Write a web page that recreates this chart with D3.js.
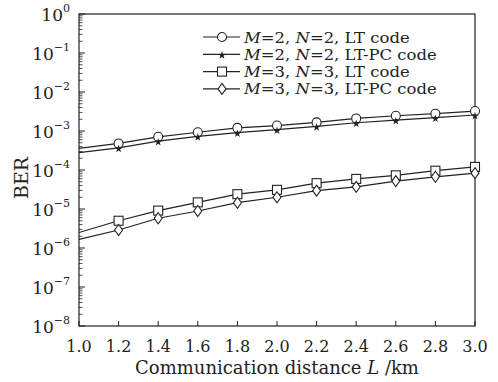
<!DOCTYPE html>
<html>
<head>
<meta charset="utf-8">
<script src="https://cdn.jsdelivr.net/npm/d3@7"></script>
<style>
  body { margin: 0; background: #fff; }
  text { font-family: "DejaVu Serif", "Liberation Serif", serif; fill: #222; }
</style>
</head>
<body>
<div id="chart"></div>
<script>
// data
var distance = [1.0, 1.2, 1.4, 1.6, 1.8, 2.0, 2.2, 2.4, 2.6, 2.8, 3.0];
var m2LT   = [3.6e-4, 4.8e-4, 7.1e-4, 9.3e-4, 1.2e-3, 1.38e-3, 1.66e-3, 2.1e-3, 2.46e-3, 2.78e-3, 3.25e-3];
var m2LTPC = [2.8e-4, 3.7e-4, 5.5e-4, 7.3e-4, 9.1e-4, 1.08e-3, 1.32e-3, 1.63e-3, 1.9e-3, 2.2e-3, 2.57e-3];
var m3LT   = [2.5e-6, 5.0e-6, 9.1e-6, 1.48e-5, 2.4e-5, 3.1e-5, 4.6e-5, 5.9e-5, 7.3e-5, 9.6e-5, 1.2e-4];
var m3LTPC = [1.66e-6, 2.9e-6, 5.8e-6, 8.9e-6, 1.45e-5, 2.0e-5, 2.95e-5, 3.7e-5, 5.2e-5, 6.7e-5, 8.3e-5];
var seriesNames = ["M=2, N=2, LT code", "M=2, N=2, LT-PC code", "M=3, N=3, LT code", "M=3, N=3, LT-PC code"];
var markers = ["circle", "star", "square", "diamond"];
var xTicks = [1.0, 1.2, 1.4, 1.6, 1.8, 2.0, 2.2, 2.4, 2.6, 2.8, 3.0];
var yExponents = [0, -1, -2, -3, -4, -5, -6, -7, -8];

var W = 498, H = 382;
var margin = {top: 14, right: 23, bottom: 56, left: 79};
var width = W - margin.left - margin.right,
    height = H - margin.top - margin.bottom;

var svg = d3.select("#chart").append("svg")
    .attr("width", W).attr("height", H);
var g = svg.append("g")
    .attr("transform", "translate(" + margin.left + "," + margin.top + ")");

var x = d3.scaleLinear().domain([1.0, 3.0]).range([0, width]);
var y = d3.scaleLog().domain([1e-8, 1]).range([height, 0]);

// bottom ticks (inward)
g.selectAll(".xt").data(xTicks).enter().append("line")
    .attr("x1", function(d) { return x(d); }).attr("x2", function(d) { return x(d); })
    .attr("y1", height).attr("y2", height - 5)
    .attr("stroke", "#222").attr("stroke-width", 1);
g.selectAll(".xl").data(xTicks).enter().append("text")
    .attr("x", function(d) { return x(d); })
    .attr("y", height + 26)
    .attr("text-anchor", "middle")
    .style("font-size", "16px")
    .text(function(d) { return d.toFixed(1); });

// left ticks: decades plus minor
yExponents.forEach(function(e) {
    var v = Math.pow(10, e);
    g.append("line").attr("x1", 0).attr("x2", 6)
        .attr("y1", y(v)).attr("y2", y(v))
        .attr("stroke", "#222").attr("stroke-width", 1);
    if (e < 0) {
        for (var k = 2; k <= 9; k++) {
            var mv = k * Math.pow(10, e);
            g.append("line").attr("x1", 0).attr("x2", 3.5)
                .attr("y1", y(mv)).attr("y2", y(mv))
                .attr("stroke", "#222").attr("stroke-width", 0.8);
        }
    }
    var t = g.append("text")
        .attr("x", -9).attr("y", y(v) + 7)
        .attr("text-anchor", "end")
        .style("font-size", "17px");
    t.append("tspan").text("10");
    t.append("tspan").attr("dy", -9).style("font-size", "11px").text(e === 0 ? "0" : "\u2212" + (-e));
});

// frame
g.append("rect").attr("width", width).attr("height", height)
    .attr("fill", "none").attr("stroke", "#222").attr("stroke-width", 1.2);

// axis titles
svg.append("text")
    .attr("x", margin.left + width / 2).attr("y", H - 8)
    .attr("text-anchor", "middle")
    .style("font-size", "18px")
    .html('Communication distance <tspan font-style="italic">L</tspan> /km');
svg.append("text")
    .attr("transform", "translate(28," + (margin.top + height / 2 + 8) + ") rotate(-90)")
    .attr("text-anchor", "middle")
    .style("font-size", "19px")
    .text("BER");

function drawMarker(sel, type, cx, cy) {
    if (type == "circle") {
        sel.append("circle").attr("cx", cx).attr("cy", cy).attr("r", 4.5)
            .attr("fill", "#fff").attr("stroke", "#222").attr("stroke-width", 1.1);
    } else if (type == "square") {
        sel.append("rect").attr("x", cx - 4.5).attr("y", cy - 4.5)
            .attr("width", 9).attr("height", 9)
            .attr("fill", "#fff").attr("stroke", "#222").attr("stroke-width", 1.1);
    } else if (type == "diamond") {
        sel.append("path").attr("d", "M" + cx + "," + (cy - 5.5) + "L" + (cx + 4) + "," + cy +
                "L" + cx + "," + (cy + 5.5) + "L" + (cx - 4) + "," + cy + "Z")
            .attr("fill", "#fff").attr("stroke", "#222").attr("stroke-width", 1.1);
    } else {
        sel.append("path").attr("d", d3.symbol().type(d3.symbolStar).size(20)())
            .attr("transform", "translate(" + cx + "," + (cy + 1) + ")")
            .attr("fill", "#222");
    }
}

var allSeries = [m2LT, m2LTPC, m3LT, m3LTPC];
var line = d3.line()
    .x(function(d, i) { return x(distance[i]); })
    .y(function(d) { return y(d); });

allSeries.forEach(function(s, si) {
    g.append("path").attr("d", line(s))
        .attr("fill", "none").attr("stroke", "#222").attr("stroke-width", 1.2);
    s.forEach(function(v, i) {
        if (i == 0) return;
        drawMarker(g, markers[si], x(distance[i]), y(v));
    });
});

// legend
var legend = svg.append("g").attr("transform", "translate(203,37)");
seriesNames.forEach(function(name, i) {
    var ly = i * 17.3;
    legend.append("line").attr("x1", 0).attr("x2", 37)
        .attr("y1", ly).attr("y2", ly)
        .attr("stroke", "#222").attr("stroke-width", 1.2);
    drawMarker(legend, markers[i], 19, ly);
    var parts = name.split(", ");
    var t = legend.append("text")
        .attr("transform", "translate(41," + (ly + 5.5) + ") scale(1.06,1)")
        .style("font-size", "15.5px");
    t.append("tspan").attr("font-style", "italic").text("M");
    t.append("tspan").text(parts[0].slice(1) + ", ");
    t.append("tspan").attr("font-style", "italic").text("N");
    t.append("tspan").text(parts[1].slice(1) + ", " + parts[2]);
});
</script>
</body>
</html>
